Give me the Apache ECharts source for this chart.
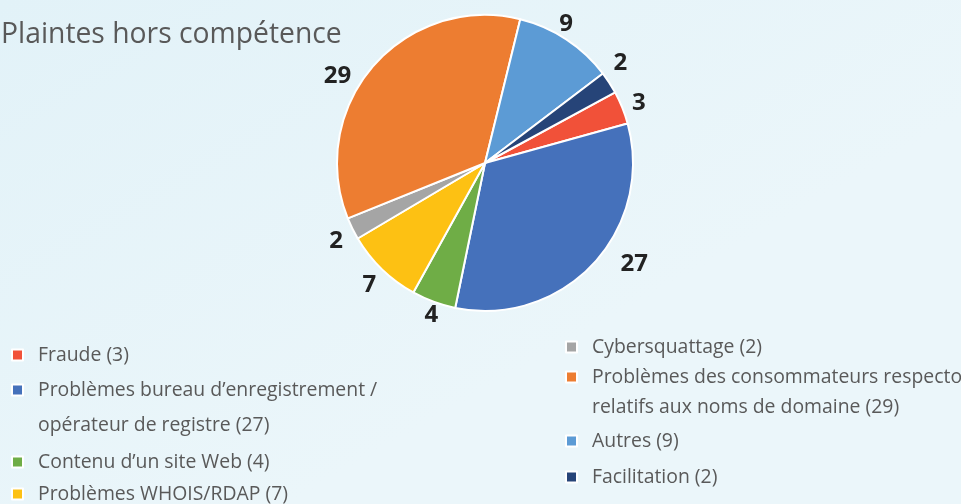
<!DOCTYPE html>
<html><head><meta charset="utf-8">
<script src="https://cdn.jsdelivr.net/npm/echarts@6/dist/echarts.min.js"></script>
<style>html,body{margin:0;padding:0;background:#e5f4f9;}#c{width:961px;height:504px;}</style>
</head><body><div id="c"></div>
<script>
const categories = ["Fraude","Problèmes bureau d’enregistrement / opérateur de registre","Contenu d’un site Web","Problèmes WHOIS/RDAP","Cybersquattage","Problèmes des consommateurs respecto relatifs aux noms de domaine","Autres","Facilitation"];
const values = [3,27,4,7,2,29,9,2];
const legendLines = [
  ["Fraude (3)"],
  ["Problèmes bureau d’enregistrement /","opérateur de registre (27)"],
  ["Contenu d’un site Web (4)"],
  ["Problèmes WHOIS/RDAP (7)"],
  ["Cybersquattage (2)"],
  ["Problèmes des consommateurs respecto","relatifs aux noms de domaine (29)"],
  ["Autres (9)"],
  ["Facilitation (2)"]
];
const colors = ["#f15139","#4571bb","#6fad46","#fdc113","#a5a5a5","#ed7d31","#5c9bd5","#264478"];
// small label nudges (best-fit placement as in the original), [dx, dy] per slice
const labelNudge = [[0,2],[28,-12],[4,-4],[0,3],[0,5],[-22,22],[-10,0],[-4,-10]];

const chart = echarts.init(document.getElementById('c'));
const FONT = '"Open Sans", sans-serif';
// legend layout: [left, iconCenterY, lineHeight]
const legendPos = [
  [11,355,22],[11,390,35],[11,462,22],[11,494,22],
  [565,347,22],[565,377,30],[565,441,22],[565,477,22]
];
const legends = categories.map((name,i)=>{
  const lines = legendLines[i];
  const lh = legendPos[i][2];
  const multi = lines.length > 1;
  const h = multi ? lh*3 : lh;
  return {
    data:[{name:name, icon:'rect'}],
    left: legendPos[i][0],
    top: legendPos[i][1] - h/2,
    padding:0,
    itemWidth:11, itemHeight:11,
    selectedMode:false,
    formatter: ()=> multi ? "\n"+lines.join("\n") : lines[0],
    textStyle:{fontFamily:FONT,fontSize:19.4,color:'#595959',lineHeight:lh,padding:[0,0,0,10]}
  };
});

chart.setOption({
  backgroundColor:{type:'linear',x:0,y:0,x2:0.3,y2:1,colorStops:[{offset:0,color:'#e2f2f8'},{offset:1,color:'#ebf6fa'}]},
  color: colors,
  title:{text:'Plaintes hors compétence',left:1,top:21,padding:0,
    textStyle:{fontFamily:FONT,fontSize:28.3,fontWeight:'normal',color:'#595959'}},
  legend: legends,
  series:[{
    type:'pie',
    center:[485,163],
    radius:148,
    startAngle:28.5,
    clockwise:true,
    animation:false,
    itemStyle:{borderColor:'#ffffff',borderWidth:2},
    label:{show:true,position:'outside',formatter:'{c}',fontFamily:FONT,fontSize:24,fontWeight:'bold',color:'#222222'},
    labelLine:{show:false,length:18,length2:0},
    labelLayout: function(params){
      const p = params.labelLinePoints;
      if(!p) return {};
      const e = p[p.length-1];
      const n = labelNudge[params.dataIndex] || [0,0];
      return {x:e[0]+n[0], y:e[1]+n[1], align:'center', verticalAlign:'middle'};
    },
    data: categories.map((n,i)=>({name:n,value:values[i]}))
  }]
});
</script></body></html>
